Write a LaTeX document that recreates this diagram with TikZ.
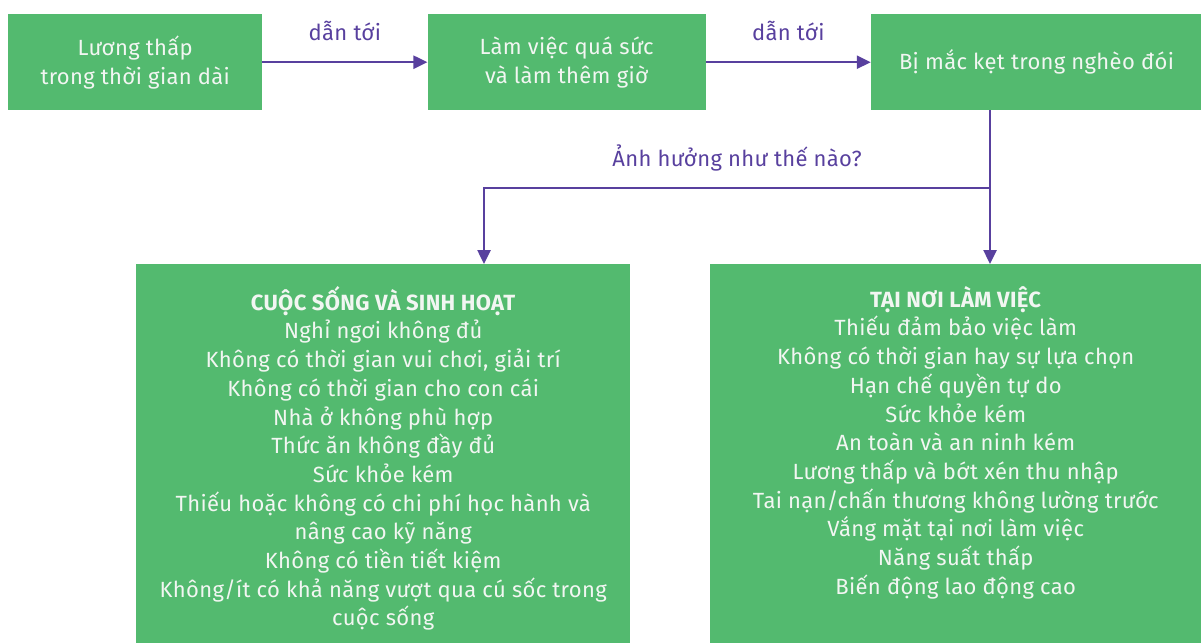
\documentclass[tikz,border=0pt]{standalone}
\usepackage{fontspec}
\setmainfont{Fira Sans}[LetterSpace=1.5]
\usetikzlibrary{arrows.meta,positioning}
\definecolor{boxgreen}{RGB}{83,186,111}
\definecolor{linkpurple}{RGB}{88,64,158}
\definecolor{paletext}{RGB}{242,246,242}

\begin{document}
\begin{tikzpicture}[x=1pt,y=-1pt,node distance=165pt,>={Triangle[length=14pt,width=13pt]},
  stepbox/.style={fill=boxgreen,text=paletext,minimum height=96pt,align=center,font=\fontsize{22}{29}\selectfont},
  bigbox/.style={fill=boxgreen,minimum height=379pt,anchor=north west},
  listtext/.style={text=paletext,align=center,inner sep=0pt,font=\fontsize{22}{28.7}\selectfont},
  link/.style={draw=linkpurple,line width=2.5pt,->},
  linklabel/.style={text=linkpurple,inner sep=0pt,font=\fontsize{22}{25}\selectfont}]
\useasboundingbox (0,0) rectangle (1201,643);
% top row
\node[stepbox,minimum width=254pt,anchor=north west] (low) at (8,14) {Lương thấp\\trong thời gian dài};
\node[stepbox,minimum width=278pt,right=of low] (overwork) {Làm việc quá sức\\và làm thêm giờ};
\node[stepbox,minimum width=331pt,right=of overwork] (trap) {Bị mắc kẹt trong nghèo đói};
% bottom boxes
\node[bigbox,minimum width=494pt] (life) at (136,264) {};
\node[bigbox,minimum width=491pt] (work) at (710,264) {};
\node[listtext,below=22pt of life.north] (lifelist) {\textbf{CUỘC SỐNG VÀ SINH HOẠT}\\
  Nghỉ ngơi không đủ\\
  Không có thời gian vui chơi, giải trí\\
  Không có thời gian cho con cái\\
  Nhà ở không phù hợp\\
  Thức ăn không đầy đủ\\
  Sức khỏe kém\\
  Thiếu hoặc không có chi phí học hành và\\
  nâng cao kỹ năng\\
  Không có tiền tiết kiệm\\
  Không/ít có khả năng vượt qua cú sốc trong\\
  cuộc sống};
\node[listtext,below=22pt of work.north] (worklist) {\textbf{TẠI NƠI LÀM VIỆC}\\
  Thiếu đảm bảo việc làm\\
  Không có thời gian hay sự lựa chọn\\
  Hạn chế quyền tự do\\
  Sức khỏe kém\\
  An toàn và an ninh kém\\
  Lương thấp và bớt xén thu nhập\\
  Tai nạn/chấn thương không lường trước\\
  Vắng mặt tại nơi làm việc\\
  Năng suất thấp\\
  Biến động lao động cao};
% connectors
\coordinate (split) at (990,188);
\coordinate (turn) at (484,188);
\draw[link] (low) -- node[linklabel,above=20pt] {dẫn tới} (overwork);
\draw[link] (overwork) -- node[linklabel,above=20pt] {dẫn tới} (trap);
\draw[link] (trap.south -| split) -- (split |- work.north);
\draw[link] (split) -- node[linklabel,above=16pt] {Ảnh hưởng như thế nào?} (turn) -- (turn |- life.north);
\end{tikzpicture}
\end{document}
